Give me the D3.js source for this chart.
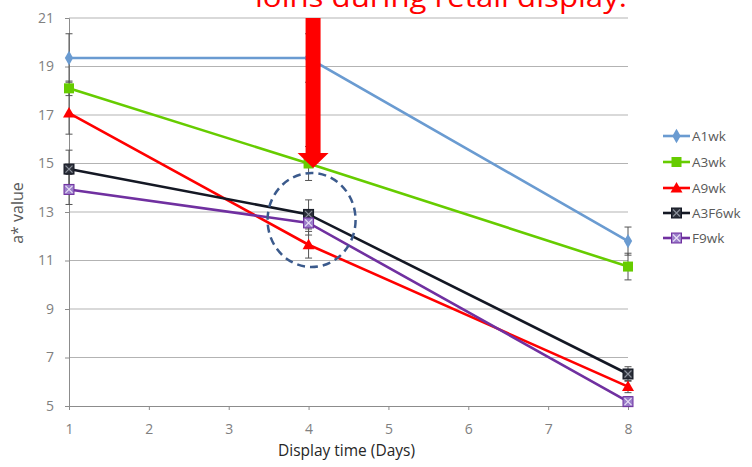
<!DOCTYPE html>
<html>
<head>
<meta charset="utf-8">
<script src="https://cdn.jsdelivr.net/npm/d3@7"></script>
<style>
  body { margin: 0; background: #fff; }
  svg { display: block; font-family: "Open Sans", "DejaVu Sans", sans-serif; }
</style>
</head>
<body>
<script>
// data
const days = [1, 4, 8]
const xTicks = [1, 2, 3, 4, 5, 6, 7, 8]
const yTicks = [5, 7, 9, 11, 13, 15, 17, 19, 21]

const seriesNames = ["A1wk", "A3wk", "A9wk", "A3F6wk", "F9wk"]
const A1wk   = [19.35, 19.35, 11.8]
const A3wk   = [18.1, 15.0, 10.75]
const A9wk   = [17.08, 11.65, 5.8]
const A3F6wk = [14.77, 12.9, 6.32]
const F9wk   = [13.93, 12.55, 5.18]

const A1wkErr   = [1.0, 1.0, 0.58]
const A3wkErr   = [0.3, 0.7, 0.55]
const A9wkErr   = [0.87, 0.55, 0.25]
const A3F6wkErr = [0.78, 0.6, 0.3]
const F9wkErr   = [0.62, 0.5, 0.2]

const colors = ["#6a9bd1", "#66cc00", "#ff0000", "#141824", "#7030a0"]
const symbols = ["diamond", "square", "triangle", "squarex", "squarex"]

const titleTail = "loins during retail display."

window.onload = function () {

    const width = 752, height = 467
    const margin = {left: 69, right: 124, top: 18, bottom: 61}

    const svg = d3.select('body').append('svg')
        .attr('width', width)
        .attr('height', height)

    const x = d3.scaleLinear().domain([1, 8]).range([margin.left, width - margin.right])
    const y = d3.scaleLinear().domain([5, 21]).range([height - margin.bottom, margin.top])

    // grid
    svg.append('g')
        .selectAll('line')
        .data(yTicks.filter(d => d > 5))
        .join('line')
        .attr('x1', x(1)).attr('x2', x(8))
        .attr('y1', d => y(d)).attr('y2', d => y(d))
        .attr('stroke', '#b3b3b3')
        .attr('stroke-width', 1)

    // axes
    const xAxis = svg.append('g')
        .attr('transform', getTranslateString(0, y(5)))
        .call(d3.axisBottom(x).tickValues(xTicks).tickSize(4).tickPadding(14).tickFormat(d3.format('d')))
    const yAxis = svg.append('g')
        .attr('transform', getTranslateString(x(1), 0))
        .call(d3.axisLeft(y).tickValues(yTicks).tickSize(4).tickPadding(11).tickFormat(d3.format('d')))

    for (const ax of [xAxis, yAxis]) {
        ax.select('.domain').attr('stroke', '#8c8c8c')
        ax.selectAll('.tick line').attr('stroke', '#8c8c8c')
        ax.selectAll('.tick text')
            .attr('fill', '#808080')
            .style('font-size', '14px')
            .style('font-family', '"Open Sans", sans-serif')
    }

    svg.append('text')
        .attr('x', (x(1) + x(8)) / 2 - 2)
        .attr('y', 456)
        .attr('text-anchor', 'middle')
        .attr('fill', '#262626')
        .style('font-size', '15.5px')
        .text('Display time (Days)')

    svg.append('text')
        .attr('transform', 'translate(23,' + 213 + ') rotate(-90)')
        .attr('text-anchor', 'middle')
        .attr('fill', '#595959')
        .style('font-size', '16px')
        .text('a* value')

    const all = [A1wk, A3wk, A9wk, A3F6wk, F9wk]
    const errs = [A1wkErr, A3wkErr, A9wkErr, A3F6wkErr, F9wkErr]

    const series = seriesNames.map((name, i) => ({
        name: name,
        color: colors[i],
        symbol: symbols[i],
        points: days.map((d, j) => ({day: d, value: all[i][j], err: errs[i][j]}))
    }))

    // error bars
    const gErr = svg.append('g')
    series.forEach(s => {
        s.points.forEach(p => {
            const cx = x(p.day)
            gErr.append('line')
                .attr('x1', cx).attr('x2', cx)
                .attr('y1', y(p.value - p.err)).attr('y2', y(p.value + p.err))
                .attr('stroke', '#555').attr('stroke-width', 1)
            for (const v of [p.value - p.err, p.value + p.err]) {
                gErr.append('line')
                    .attr('x1', cx - 3.5).attr('x2', cx + 3.5)
                    .attr('y1', y(v)).attr('y2', y(v))
                    .attr('stroke', '#555').attr('stroke-width', 1)
            }
        })
    })

    const line = d3.line().x(d => x(d.day)).y(d => y(d.value))

    function drawMarker(g, sym, color, cx, cy) {
        if (sym === 'diamond') {
            g.append('path')
                .attr('d', d3.symbol(d3.symbolDiamond, 60)())
                .attr('transform', getTranslateString(cx, cy))
                .attr('fill', color)
        } else if (sym === 'square') {
            g.append('rect')
                .attr('x', cx - 5).attr('y', cy - 5)
                .attr('width', 10).attr('height', 10)
                .attr('fill', color)
        } else if (sym === 'triangle') {
            g.append('path')
                .attr('d', 'M0,-6L6,4.5L-6,4.5Z')
                .attr('transform', getTranslateString(cx, cy))
                .attr('fill', color)
        } else {
            g.append('rect')
                .attr('x', cx - 5).attr('y', cy - 5)
                .attr('width', 10).attr('height', 10)
                .attr('fill', color === '#7030a0' ? '#9a7dc9' : '#2a2e38')
                .attr('stroke', color).attr('stroke-width', 1)
            g.append('path')
                .attr('d', 'M-3.5,-3.5L3.5,3.5M3.5,-3.5L-3.5,3.5')
                .attr('transform', getTranslateString(cx, cy))
                .attr('stroke', color === '#7030a0' ? '#e8e0f5' : '#8a8f9a')
                .attr('stroke-width', 1.2)
        }
    }

    const gSeries = svg.append('g')
    series.forEach(s => {
        gSeries.append('path')
            .datum(s.points)
            .attr('d', line)
            .attr('fill', 'none')
            .attr('stroke', s.color)
            .attr('stroke-width', 2.6)
        s.points.forEach(p => drawMarker(gSeries, s.symbol, s.color, x(p.day), y(p.value)))
    })

    // highlight circle around day 4
    svg.append('ellipse')
        .attr('cx', x(4) + 3).attr('cy', 220)
        .attr('rx', 44).attr('ry', 47)
        .attr('fill', 'none')
        .attr('stroke', '#3b5a8c')
        .attr('stroke-width', 2.5)
        .attr('stroke-dasharray', '8,5')

    // red arrow
    const ax4 = x(4) + 5
    svg.append('rect')
        .attr('x', ax4 - 8).attr('y', margin.top)
        .attr('width', 15).attr('height', 136)
        .attr('fill', '#ff0000')
    svg.append('path')
        .attr('d', 'M' + (ax4 - 16) + ',153L' + (ax4 + 15) + ',153L' + (ax4 - 0.5) + ',168Z')
        .attr('fill', '#ff0000')

    // title tail (its upper part lies above the picture, as in the original slide)
    svg.append('text')
        .attr('x', 255)
        .attr('y', 7)
        .attr('fill', '#ff0000')
        .attr('textLength', 372)
        .attr('lengthAdjust', 'spacingAndGlyphs')
        .style('font-size', '27px')
        .text(titleTail)

    // legend
    const legend = svg.append('g')
    const legendY = [136, 162, 188, 213, 238]
    series.forEach((s, i) => {
        const ly = legendY[i]
        legend.append('line')
            .attr('x1', 663).attr('x2', 690)
            .attr('y1', ly).attr('y2', ly)
            .attr('stroke', s.color).attr('stroke-width', 2.6)
        drawMarker(legend.append('g'), s.symbol, s.color, 676.5, ly)
        legend.append('text')
            .attr('x', 692)
            .attr('y', ly + 4.5)
            .attr('fill', '#595959')
            .style('font-size', '13.5px')
            .text(s.name)
    })
}

function getTranslateString(x, y){
    return 'translate(' + x + ',' + y + ')'
}
</script>
</body>
</html>
